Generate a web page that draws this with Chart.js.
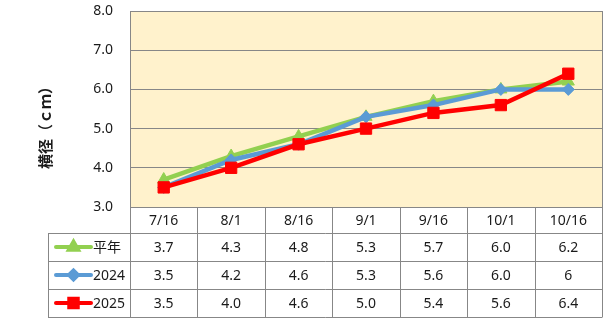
<!DOCTYPE html>
<html>
<head>
<meta charset="utf-8">
<script src="https://cdn.jsdelivr.net/npm/chart.js@4/dist/chart.umd.min.js"></script>
<style>
  body { margin: 0; background: #fff; }
  canvas { display: block; }
</style>
</head>
<body>
<canvas id="grafico" width="616" height="326"></canvas>
<script>
// fechas de medición y valores (tal como se muestran en la tabla)
const fechas = ['7/16', '8/1', '8/16', '9/1', '9/16', '10/1', '10/16'];
const heinen = ['3.7', '4.3', '4.8', '5.3', '5.7', '6.0', '6.2'];
const datos2024 = ['3.5', '4.2', '4.6', '5.3', '5.6', '6.0', '6'];
const datos2025 = ['3.5', '4.0', '4.6', '5.0', '5.4', '5.6', '6.4'];
const ejeMin = 3, ejeMax = 8;

const series = [
  { nombre: '平年', valores: heinen, color: '#92D050', punto: 'triangle', radio: 7, orden: 3 },
  { nombre: '2024', valores: datos2024, color: '#5B9BD5', punto: 'rectRot', radio: 6, orden: 2 },
  { nombre: '2025', valores: datos2025, color: '#FF0000', punto: 'rect', radio: 8, orden: 1 }
];

const GRIS = '#878787';
const TEXTO = '#1a1a1a';
const FUENTE = '"Noto Sans", "Noto Sans CJK JP", sans-serif';

Chart.defaults.font.family = FUENTE;
Chart.defaults.font.size = 14;
Chart.defaults.color = TEXTO;

// fondo del área, borde derecho, título del eje y tabla de datos
const fondoYTabla = {
  id: 'fondoYTabla',
  beforeDraw(chart) {
    const { ctx, chartArea: a } = chart;
    ctx.save();
    ctx.fillStyle = '#FFF2CC';
    ctx.fillRect(a.left, a.top, a.right - a.left, a.bottom - a.top);
    ctx.restore();
  },
  afterDraw(chart) {
    const { ctx, chartArea: a, scales } = chart;
    const colW = (a.right - a.left) / fechas.length;
    const altoCab = 26, altoFila = 28, izq = 48;
    const arriba = a.bottom;
    const filas = arriba + altoCab;
    const abajo = filas + altoFila * series.length;

    ctx.save();
    ctx.strokeStyle = GRIS;
    ctx.lineWidth = 1;
    ctx.beginPath();
    const xr = Math.round(a.right) + 0.5;
    ctx.moveTo(xr, a.top);
    ctx.lineTo(xr, abajo);
    for (let i = 0; i < fechas.length; i++) {
      const cx = Math.round(a.left + i * colW) + 0.5;
      ctx.moveTo(cx, arriba);
      ctx.lineTo(cx, abajo);
    }
    ctx.moveTo(izq + 0.5, filas);
    ctx.lineTo(izq + 0.5, abajo);
    for (let r = 0; r <= series.length; r++) {
      const y = Math.round(filas + r * altoFila) + 0.5;
      ctx.moveTo(izq, y);
      ctx.lineTo(xr, y);
    }
    ctx.stroke();

    ctx.fillStyle = TEXTO;
    ctx.font = '14px ' + FUENTE;
    ctx.textAlign = 'center';
    ctx.textBaseline = 'middle';
    fechas.forEach((f, i) => {
      ctx.fillText(f, scales.x.getPixelForValue(i), arriba + altoCab / 2 + 1);
    });

    series.forEach((s, r) => {
      const cy = filas + r * altoFila + altoFila / 2 + 1;
      s.valores.forEach((v, i) => {
        ctx.fillText(v, scales.x.getPixelForValue(i), cy);
      });
      // clave de la leyenda
      ctx.save();
      ctx.strokeStyle = s.color;
      ctx.lineWidth = 4;
      ctx.lineCap = 'round';
      ctx.beginPath();
      ctx.moveTo(56, cy - 1);
      ctx.lineTo(91, cy - 1);
      ctx.stroke();
      ctx.fillStyle = s.color;
      Chart.helpers.drawPoint(ctx, {
        pointStyle: s.punto, radius: s.radio * 0.75, borderWidth: 1, rotation: 0
      }, 73.5, cy - 1);
      ctx.restore();
      ctx.textAlign = 'left';
      ctx.fillText(s.nombre, 93, cy);
      ctx.textAlign = 'center';
    });

    // título del eje Y
    ctx.translate(45, 124);
    ctx.rotate(-Math.PI / 2);
    ctx.font = 'bold 15px "Noto Sans CJK JP", sans-serif';
    ctx.fillText('横径（ｃｍ）', 0, 0);
    ctx.restore();
  }
};

new Chart(document.getElementById('grafico'), {
  type: 'line',
  data: {
    labels: fechas,
    datasets: series.map(s => ({
      label: s.nombre,
      data: s.valores.map(Number),
      borderColor: s.color,
      backgroundColor: s.color,
      borderWidth: 4.5,
      pointStyle: s.punto,
      pointRadius: s.radio,
      pointBorderWidth: 1,
      pointBorderColor: s.color,
      tension: 0,
      order: s.orden
    }))
  },
  options: {
    responsive: false,
    devicePixelRatio: 1,
    animation: false,
    layout: { padding: { top: 11, right: 14, bottom: 119, left: 0 } },
    plugins: {
      legend: { display: false },
      tooltip: { enabled: false }
    },
    scales: {
      x: { display: false, offset: true },
      y: {
        min: ejeMin,
        max: ejeMax,
        afterFit: scale => {
          scale.width = 130;
          scale.paddingTop = 0;
          scale.paddingBottom = 0;
        },
        ticks: {
          stepSize: 1,
          padding: 17,
          color: TEXTO,
          callback: v => v.toFixed(1)
        },
        grid: { color: GRIS, drawTicks: false },
        border: { display: true, color: GRIS }
      }
    }
  },
  plugins: [fondoYTabla]
});
</script>
</body>
</html>
